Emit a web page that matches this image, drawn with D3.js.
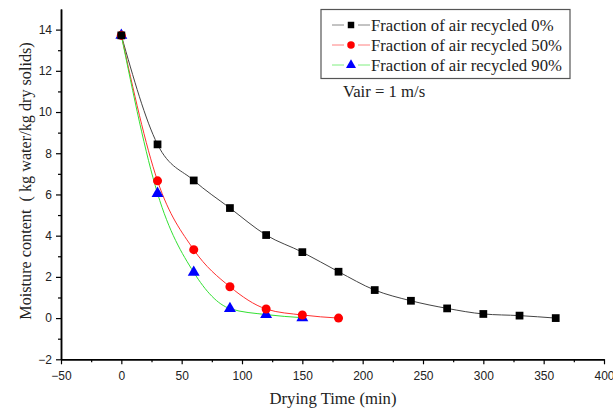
<!DOCTYPE html>
<html><head><meta charset="utf-8">
<script src="https://cdn.jsdelivr.net/npm/d3@7"></script>
<style>body{margin:0;background:#fff}svg{display:block}</style>
</head><body>
<svg id="c" width="613" height="410"></svg>
<script>
const time0 = [0,30,60,90,120,150,180,210,240,270,300,330,360];
const moist0 = [13.72,8.43,6.68,5.34,4.03,3.2,2.25,1.36,0.84,0.47,0.2,0.12,0.0];
const time50 = [0,30,60,90,120,150,180];
const moist50 = [13.72,6.66,3.32,1.52,0.44,0.15,0.0];
const time90 = [0,30,60,90,120,150];
const moist90 = [13.72,6.05,2.22,0.46,0.17,0.02];
const seriesNames = ["Fraction of air recycled 0%","Fraction of air recycled 50%","Fraction of air recycled 90%"];
const xTicks = [-50,0,50,100,150,200,250,300,350,400];
const yTicks = [-2,0,2,4,6,8,10,12,14];

const svg = d3.select("#c");
const x = d3.scaleLinear().domain([-50,400]).range([61,604]);
const y = d3.scaleLinear().domain([-2,15]).range([359.3,9]);
const serif = "'Liberation Serif','Times New Roman',serif";

// axes
const xAxis = svg.append("g").attr("transform",`translate(0,${y(-2)})`)
  .call(d3.axisBottom(x).tickValues(xTicks).tickSize(5).tickSizeOuter(0).tickFormat(d3.format("d")));
const xMinor = svg.append("g").attr("transform",`translate(0,${y(-2)})`)
  .call(d3.axisBottom(x).tickValues(d3.range(-25,400,50)).tickSize(3).tickSizeOuter(0).tickFormat(""));
const yAxis = svg.append("g").attr("transform",`translate(${x(-50)},0)`)
  .call(d3.axisLeft(y).tickValues(yTicks).tickSize(5).tickSizeOuter(0));
const yMinor = svg.append("g").attr("transform",`translate(${x(-50)},0)`)
  .call(d3.axisLeft(y).tickValues(d3.range(-1,15,2)).tickSize(3).tickSizeOuter(0).tickFormat(""));
[xAxis,xMinor,yAxis,yMinor].forEach(g=>{
  g.select(".domain").attr("stroke","#000").attr("stroke-width",1.5);
  g.selectAll(".tick line").attr("stroke","#000").attr("stroke-width",1.2);
  g.selectAll("text").attr("font-family","'Liberation Sans',Arial,sans-serif").attr("font-size",12).attr("fill","#222");
});
xAxis.selectAll("text").attr("dy","1.05em");
yAxis.selectAll("text").attr("dx","-1");

const line = d3.line().x(d=>x(d[0])).y(d=>y(d[1])).curve(d3.curveMonotoneX);
const series = [
  {t:time0,m:moist0,line:"#444",fill:"#000",sym:d3.symbolSquare,size:60,lw:1},
  {t:time50,m:moist50,line:"#ff3030",fill:"#ff0000",sym:d3.symbolCircle,size:64,lw:1},
  {t:time90,m:moist90,line:"#33e033",fill:"#0000ff",sym:d3.symbolTriangle,size:62,lw:1}
];
series.forEach(s=>{
  const pts = s.t.map((t,i)=>[t,s.m[i]]);
  svg.append("path").datum(pts).attr("d",line).attr("fill","none").attr("stroke",s.line).attr("stroke-width",s.lw);
});
series.slice().reverse().forEach(s=>{
  const pts = s.t.map((t,i)=>[t,s.m[i]]);
  svg.append("g").selectAll("path").data(pts).join("path")
    .attr("d",d3.symbol().type(s.sym).size(s.size))
    .attr("transform",d=>`translate(${x(d[0])},${y(d[1])})`)
    .attr("fill",s.fill);
});

// legend
const lg = svg.append("g");
lg.append("rect").attr("x",321).attr("y",9.5).attr("width",249).attr("height",69)
  .attr("fill","#fff").attr("stroke","#555").attr("stroke-width",1.2);
const legLine = ["#888","#ff8080","#80ee80"];
series.forEach((s,i)=>{
  const yy = 25 + i*20;
  lg.append("line").attr("x1",332).attr("x2",344).attr("y1",yy).attr("y2",yy).attr("stroke",legLine[i]).attr("stroke-width",1);
  lg.append("line").attr("x1",358).attr("x2",370).attr("y1",yy).attr("y2",yy).attr("stroke",legLine[i]).attr("stroke-width",1);
  lg.append("path").attr("d",d3.symbol().type(s.sym).size(s.size*0.7)).attr("transform",`translate(351,${yy})`).attr("fill",s.fill);
  lg.append("text").attr("x",371).attr("y",yy+5.5).text(seriesNames[i])
    .attr("font-family",serif).attr("font-size",16.7).attr("fill","#222");
});
svg.append("text").attr("x",343).attr("y",97).text("Vair = 1 m/s")
  .attr("font-family",serif).attr("font-size",16.7).attr("fill","#222");

// titles
svg.append("text").attr("x",333).attr("y",404).attr("text-anchor","middle").text("Drying Time (min)")
  .attr("font-family",serif).attr("font-size",16.7).attr("fill","#222");
svg.append("text").attr("transform","translate(31,181) rotate(-90)").attr("text-anchor","middle")
  .attr("xml:space","preserve").style("white-space","pre")
  .text("Moisture content  ( kg water/kg dry solids)")
  .attr("font-family",serif).attr("font-size",16.2).attr("fill","#222");
</script>
</body></html>
